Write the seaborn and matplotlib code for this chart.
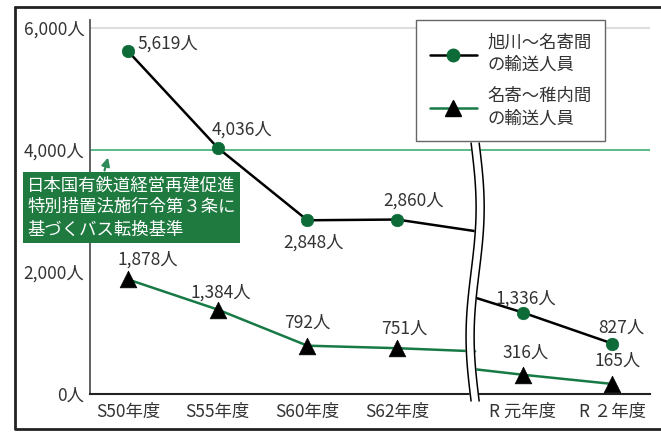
import numpy as np
import matplotlib.pyplot as plt
from matplotlib.lines import Line2D
import seaborn as sns

# 輸送人員（人/日）
categories = ["S50年度", "S55年度", "S60年度", "S62年度", "R 元年度", "R ２年度"]
asahikawa_nayoro = [5619, 4036, 2848, 2860, 1336, 827]
nayoro_wakkanai = [1878, 1384, 792, 751, 316, 165]
# values where the lines meet the axis break (left side, right side)
break_left = [2670, 700]
break_right = [1580, 405]
threshold = 4000
yticks = [0, 2000, 4000, 6000]

GREEN_DARK = "#0d6b38"
GREEN_LINE = "#177a45"
GREEN_BOX = "#1f7a40"
GREEN_REF = "#4fb47f"
TXT = "#333333"

sns.set_style("white")
plt.rcParams["font.family"] = ["Noto Sans CJK JP", "DejaVu Sans"]

fig = plt.figure(figsize=(6.61, 4.32), dpi=100)
ax = fig.add_axes([90 / 661, 38 / 432, 560 / 661, 374 / 432])

gap = 0.4
xpos = np.arange(len(categories)) + np.where(np.arange(len(categories)) >= 4, gap, 0)
xbrk = 3.87

# reference lines
ax.axhline(6000, color="#dddddd", lw=1.5, zorder=1)
ax.axhline(threshold, color=GREEN_REF, lw=1.3, zorder=1)

# lines (split at the break)
for vals, bl, br, col in [(asahikawa_nayoro, break_left[0], break_right[0], "black"),
                          (nayoro_wakkanai, break_left[1], break_right[1], GREEN_LINE)]:
    sns.lineplot(x=list(xpos[:4]) + [xbrk], y=vals[:4] + [bl], color=col, lw=1.8,
                 sort=False, estimator=None, ax=ax, zorder=2)
    sns.lineplot(x=[xbrk] + list(xpos[4:]), y=[br] + vals[4:], color=col, lw=1.8,
                 sort=False, estimator=None, ax=ax, zorder=2)

sns.scatterplot(x=xpos, y=asahikawa_nayoro, marker="o", s=9 ** 2, color=GREEN_DARK,
                edgecolor=GREEN_DARK, linewidth=0.5, ax=ax, zorder=4)
sns.scatterplot(x=xpos, y=nayoro_wakkanai, marker="^", s=12 ** 2, color="black",
                edgecolor="black", linewidth=0.5, ax=ax, zorder=4)

# axis break (white band between two wavy lines)
t = np.linspace(0, 1, 100)
yb = 4115 - t * (4115 + 115)
xl = xbrk - 0.045 + 0.056 * np.sin(2 * np.pi * t)
xr = xl + 0.09
ax.fill(np.r_[xl, xr[::-1]], np.r_[yb, yb[::-1]], color="white", zorder=5, clip_on=False)
ax.plot(xl, yb, color="black", lw=1.1, zorder=6, clip_on=False)
ax.plot(xr, yb, color="black", lw=1.1, zorder=6, clip_on=False)

# data labels: offsets in pixels
off_a = [(9, 8, "left"), (-6, 18, "left"), (6, -22, "center"), (17, 19, "center"),
         (3, 14, "center"), (9, 16, "center")]
off_b = [(20, 20, "center"), (3, 17, "center"), (0, 23, "center"), (7, 19, "center"),
         (3, 22, "center"), (5, 23, "center")]
for vals, offs in [(asahikawa_nayoro, off_a), (nayoro_wakkanai, off_b)]:
    for x, v, (dx, dy, ha) in zip(xpos, vals, offs):
        ax.annotate(f"{v:,}人", (x, v), xytext=(dx, dy), textcoords="offset pixels",
                    ha=ha, va="center", fontsize=12.5, color=TXT, zorder=7)

ax.set_xlim(-0.424, 5.82)
ax.set_ylim(0, 6131)
ax.set_xticks(xpos)
ax.set_xticklabels(categories)
ax.set_yticks(yticks)
ax.set_yticklabels([f"{v:,}人" for v in yticks])
ax.set_xlabel("")
ax.set_ylabel("")
ax.tick_params(axis="x", direction="inout", length=7, width=1.3, color="#222222",
               pad=3, labelsize=12.5, labelcolor=TXT)
ax.tick_params(axis="y", length=0, pad=4, labelsize=12.5, labelcolor=TXT)
for s in ["top", "right"]:
    ax.spines[s].set_visible(False)
ax.spines["left"].set_color("#555555")
ax.spines["left"].set_linewidth(1.3)
ax.spines["bottom"].set_color("#222222")
ax.spines["bottom"].set_linewidth(1.5)

# legend
handles = [
    Line2D([], [], color="black", lw=1.8, marker="o", markersize=9,
           markerfacecolor=GREEN_DARK, markeredgecolor=GREEN_DARK),
    Line2D([], [], color=GREEN_LINE, lw=1.8, marker="^", markersize=11,
           markerfacecolor="black", markeredgecolor="black"),
]
leg = ax.legend(handles, ["旭川～名寄間\nの輸送人員", "名寄～稚内間\nの輸送人員"],
                loc="upper right", bbox_to_anchor=(0.92, 1.0), borderaxespad=0,
                fontsize=12.5, handlelength=2.7, labelspacing=0.75, fancybox=False,
                framealpha=1, edgecolor="#666666", borderpad=0.8, handletextpad=0.6)
leg.get_frame().set_linewidth(1.0)
for txt in leg.get_texts():
    txt.set_color(TXT)
    txt.set_linespacing(1.3)
leg.set_zorder(8)

# threshold note
fig.text(27 / 661, 1 - 176 / 432, "日本国有鉄道経営再建促進\n特別措置法施行令第３条に\n基づくバス転換基準",
         ha="left", va="top", fontsize=12.5, color="white", linespacing=1.3,
         bbox=dict(boxstyle="square,pad=0.25", fc=GREEN_BOX, ec="none"))
ax.annotate("", xy=(-0.215, 3920), xytext=(-0.27, 3620),
            arrowprops=dict(arrowstyle="-|>", color="#2e8b57", lw=1.6, mutation_scale=12),
            annotation_clip=False, zorder=9)

# outer frame
for xs, ys in [([15 / 661, 15 / 661], [4 / 432, 1 - 7 / 432]),
               ([15 / 661, 1.0], [1 - 7 / 432, 1 - 7 / 432]),
               ([15 / 661, 1.0], [3 / 432, 3 / 432])]:
    fig.add_artist(Line2D(xs, ys, color="#222222", lw=2, transform=fig.transFigure))

fig.savefig("out.png", dpi=100)
